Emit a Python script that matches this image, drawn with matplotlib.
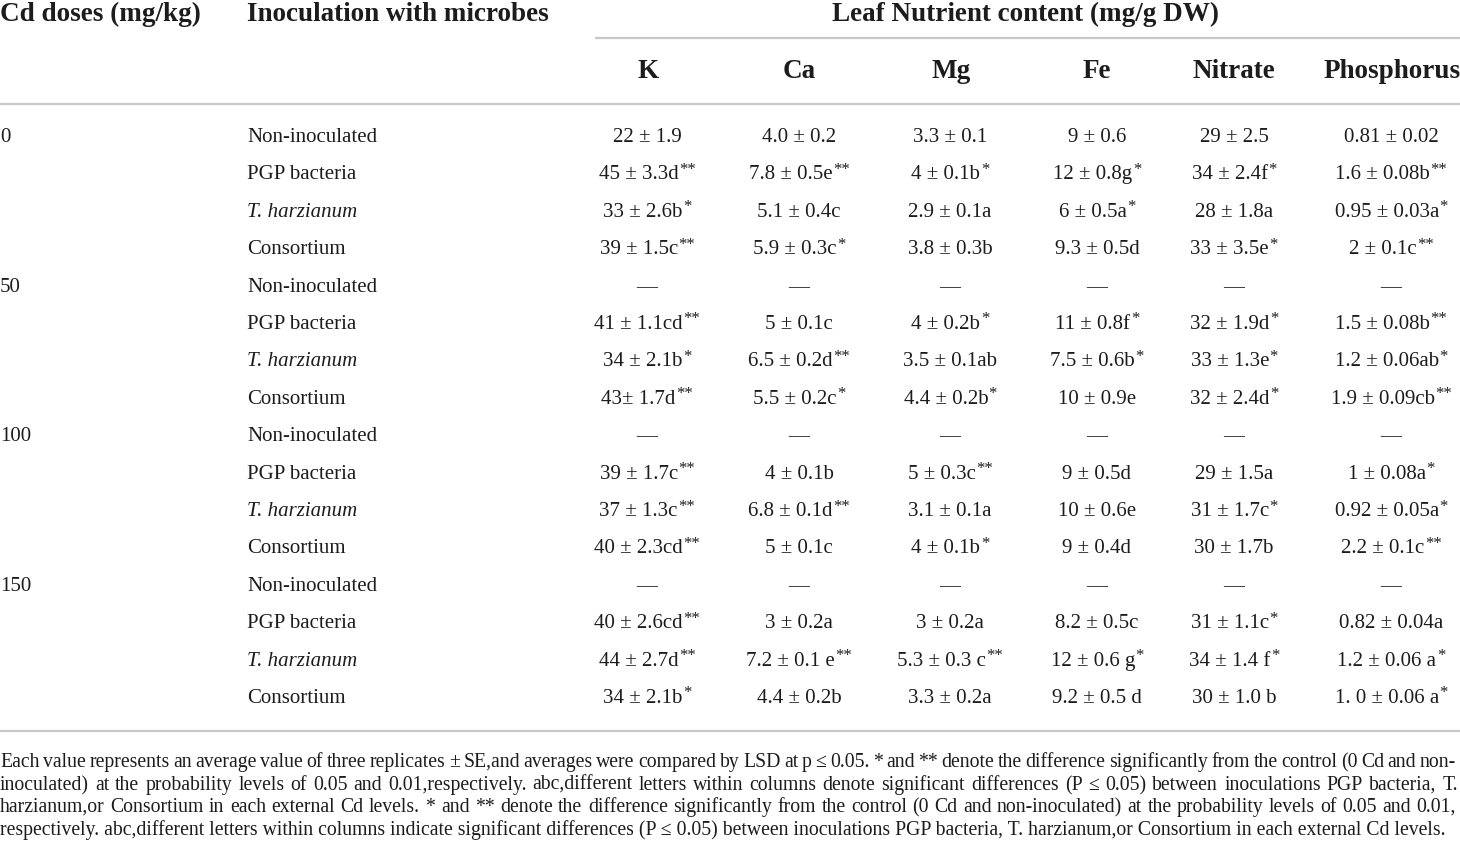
import matplotlib
matplotlib.use('Agg')
import matplotlib.pyplot as plt

# ── Table content ─────────────────────────────────────────────
doses = ['0', '', '', '', '50', '', '', '', '100', '', '', '', '150', '', '', '']
inoculation = ['Non-inoculated', 'PGP bacteria', 'T. harzianum', 'Consortium'] * 4
nutrients = ['K', 'Ca', 'Mg', 'Fe', 'Nitrate', 'Phosphorus']

K = ['22 ± 1.9', '45 ± 3.3d**', '33 ± 2.6b*', '39 ± 1.5c**',
     '—', '41 ± 1.1cd**', '34 ± 2.1b*', '43± 1.7d**',
     '—', '39 ± 1.7c**', '37 ± 1.3c**', '40 ± 2.3cd**',
     '—', '40 ± 2.6cd**', '44 ± 2.7d**', '34 ± 2.1b*']
Ca = ['4.0 ± 0.2', '7.8 ± 0.5e**', '5.1 ± 0.4c', '5.9 ± 0.3c*',
      '—', '5 ± 0.1c', '6.5 ± 0.2d**', '5.5 ± 0.2c*',
      '—', '4 ± 0.1b', '6.8 ± 0.1d**', '5 ± 0.1c',
      '—', '3 ± 0.2a', '7.2 ± 0.1 e**', '4.4 ± 0.2b']
Mg = ['3.3 ± 0.1', '4 ± 0.1b*', '2.9 ± 0.1a', '3.8 ± 0.3b',
      '—', '4 ± 0.2b*', '3.5 ± 0.1ab', '4.4 ± 0.2b*',
      '—', '5 ± 0.3c**', '3.1 ± 0.1a', '4 ± 0.1b*',
      '—', '3 ± 0.2a', '5.3 ± 0.3 c**', '3.3 ± 0.2a']
Fe = ['9 ± 0.6', '12 ± 0.8g*', '6 ± 0.5a*', '9.3 ± 0.5d',
      '—', '11 ± 0.8f*', '7.5 ± 0.6b*', '10 ± 0.9e',
      '—', '9 ± 0.5d', '10 ± 0.6e', '9 ± 0.4d',
      '—', '8.2 ± 0.5c', '12 ± 0.6 g*', '9.2 ± 0.5 d']
Nitrate = ['29 ± 2.5', '34 ± 2.4f*', '28 ± 1.8a', '33 ± 3.5e*',
           '—', '32 ± 1.9d*', '33 ± 1.3e*', '32 ± 2.4d*',
           '—', '29 ± 1.5a', '31 ± 1.7c*', '30 ± 1.7b',
           '—', '31 ± 1.1c*', '34 ± 1.4 f*', '30 ± 1.0 b']
Phosphorus = ['0.81 ± 0.02', '1.6 ± 0.08b**', '0.95 ± 0.03a*', '2 ± 0.1c**',
              '—', '1.5 ± 0.08b**', '1.2 ± 0.06ab*', '1.9 ± 0.09cb**',
              '—', '1 ± 0.08a*', '0.92 ± 0.05a*', '2.2 ± 0.1c**',
              '—', '0.82 ± 0.04a', '1.2 ± 0.06 a*', '1. 0 ± 0.06 a*']

footnote = [
    'Each value represents an average value of three replicates ± SE,and averages were compared by LSD at p ≤ 0.05. * and ** denote the difference significantly from the control (0 Cd and non-',
    'inoculated) at the probability levels of 0.05 and 0.01,respectively. abc,different letters within columns denote significant differences (P ≤ 0.05) between inoculations PGP bacteria, T.',
    'harzianum,or Consortium in each external Cd levels. * and ** denote the difference significantly from the control (0 Cd and non-inoculated) at the probability levels of 0.05 and 0.01,',
    'respectively. abc,different letters within columns indicate significant differences (P ≤ 0.05) between inoculations PGP bacteria, T. harzianum,or Consortium in each external Cd levels.',
]

# ── Layout ────────────────────────────────────────────────────
W, H = 1460, 842
FONT = 'Liberation Serif'
INK = '#1c1c1c'
RULE = '#c8c8c8'
col_x = [647, 799, 950, 1097, 1234, 1391]
head_x = [648, 799, 951, 1097, 1234, 1392]
row_y = [136 + 37.4 * i for i in range(16)]

fig = plt.figure(figsize=(W / 100, H / 100), dpi=100)
ax = fig.add_axes([0, 0, 1, 1])
ax.set_xlim(0, W)
ax.set_ylim(H, 0)
ax.axis('off')
fig.canvas.draw()
renderer = fig.canvas.get_renderer()


def px_width(t):
    return t.get_window_extent(renderer=renderer).width


def cell(x, y, s, size=15):
    # value with superscript asterisks, centred on x
    base = s.rstrip('*')
    stars = s[len(base):]
    tb = ax.text(0, y + 6, base, fontsize=size, family=FONT,
                 color=INK, ha='left', va='baseline')
    wb = px_width(tb)
    ws = 0
    ts = None
    if stars:
        ts = ax.text(0, y + 0.5, stars, fontsize=size * 0.8, family=FONT,
                     color=INK, ha='left', va='baseline')
        ws = px_width(ts)
    x0 = x - (wb + ws) / 2
    tb.set_x(x0)
    if ts is not None:
        ts.set_x(x0 + wb + 0.5)


def hline(y, x0, x1):
    ax.plot([x0, x1], [y, y], color=RULE, lw=1.6, solid_capstyle='butt')


# header
hfs = 19.5
ax.text(0, 21, 'Cd doses (mg/kg)', fontsize=hfs, family=FONT, weight='bold',
        color=INK, ha='left', va='baseline')
ax.text(247, 21, 'Inoculation with microbes', fontsize=hfs, family=FONT,
        weight='bold', color=INK, ha='left', va='baseline')
ax.text(1026, 21, 'Leaf Nutrient content (mg/g DW)', fontsize=hfs, family=FONT,
        weight='bold', color=INK, ha='center', va='baseline')
hline(38, 595, W)
for x, name in zip(head_x, nutrients):
    ax.text(x, 78, name, fontsize=hfs, family=FONT, weight='bold',
            color=INK, ha='center', va='baseline')
hline(104, 0, W)

# body
columns = [K, Ca, Mg, Fe, Nitrate, Phosphorus]
for i, y in enumerate(row_y):
    if doses[i]:
        ax.text(0, y + 6, doses[i], fontsize=15, family=FONT, color=INK,
                ha='left', va='baseline')
    st = 'italic' if inoculation[i].startswith('T.') else 'normal'
    ax.text(247, y + 6, inoculation[i], fontsize=15, family=FONT, style=st,
            color=INK, ha='left', va='baseline')
    for x, col in zip(col_x, columns):
        cell(x, y, col[i])
hline(731, 0, W)

# footnote: size so the last line runs to ~1440 px, others justified
probe = ax.text(0, 0, footnote[-1], fontsize=12, family=FONT)
ffs = 12 * 1440 / px_width(probe)
probe.remove()
foot_y = [767, 790, 812, 835]
foot_right = [1456, 1458, 1456]
for k, line in enumerate(footnote):
    y = foot_y[k]
    if k == len(footnote) - 1:
        ax.text(0, y, line, fontsize=ffs, family=FONT, color=INK,
                ha='left', va='baseline')
        continue
    words = line.split(' ')
    texts = [ax.text(0, y, w, fontsize=ffs, family=FONT, color=INK,
                     ha='left', va='baseline') for w in words]
    widths = [px_width(t) for t in texts]
    gap = (foot_right[k] - sum(widths)) / (len(words) - 1)
    x = 0
    for t, w in zip(texts, widths):
        t.set_x(x)
        x += w + gap

fig.savefig('out.png', dpi=100, facecolor='white')
